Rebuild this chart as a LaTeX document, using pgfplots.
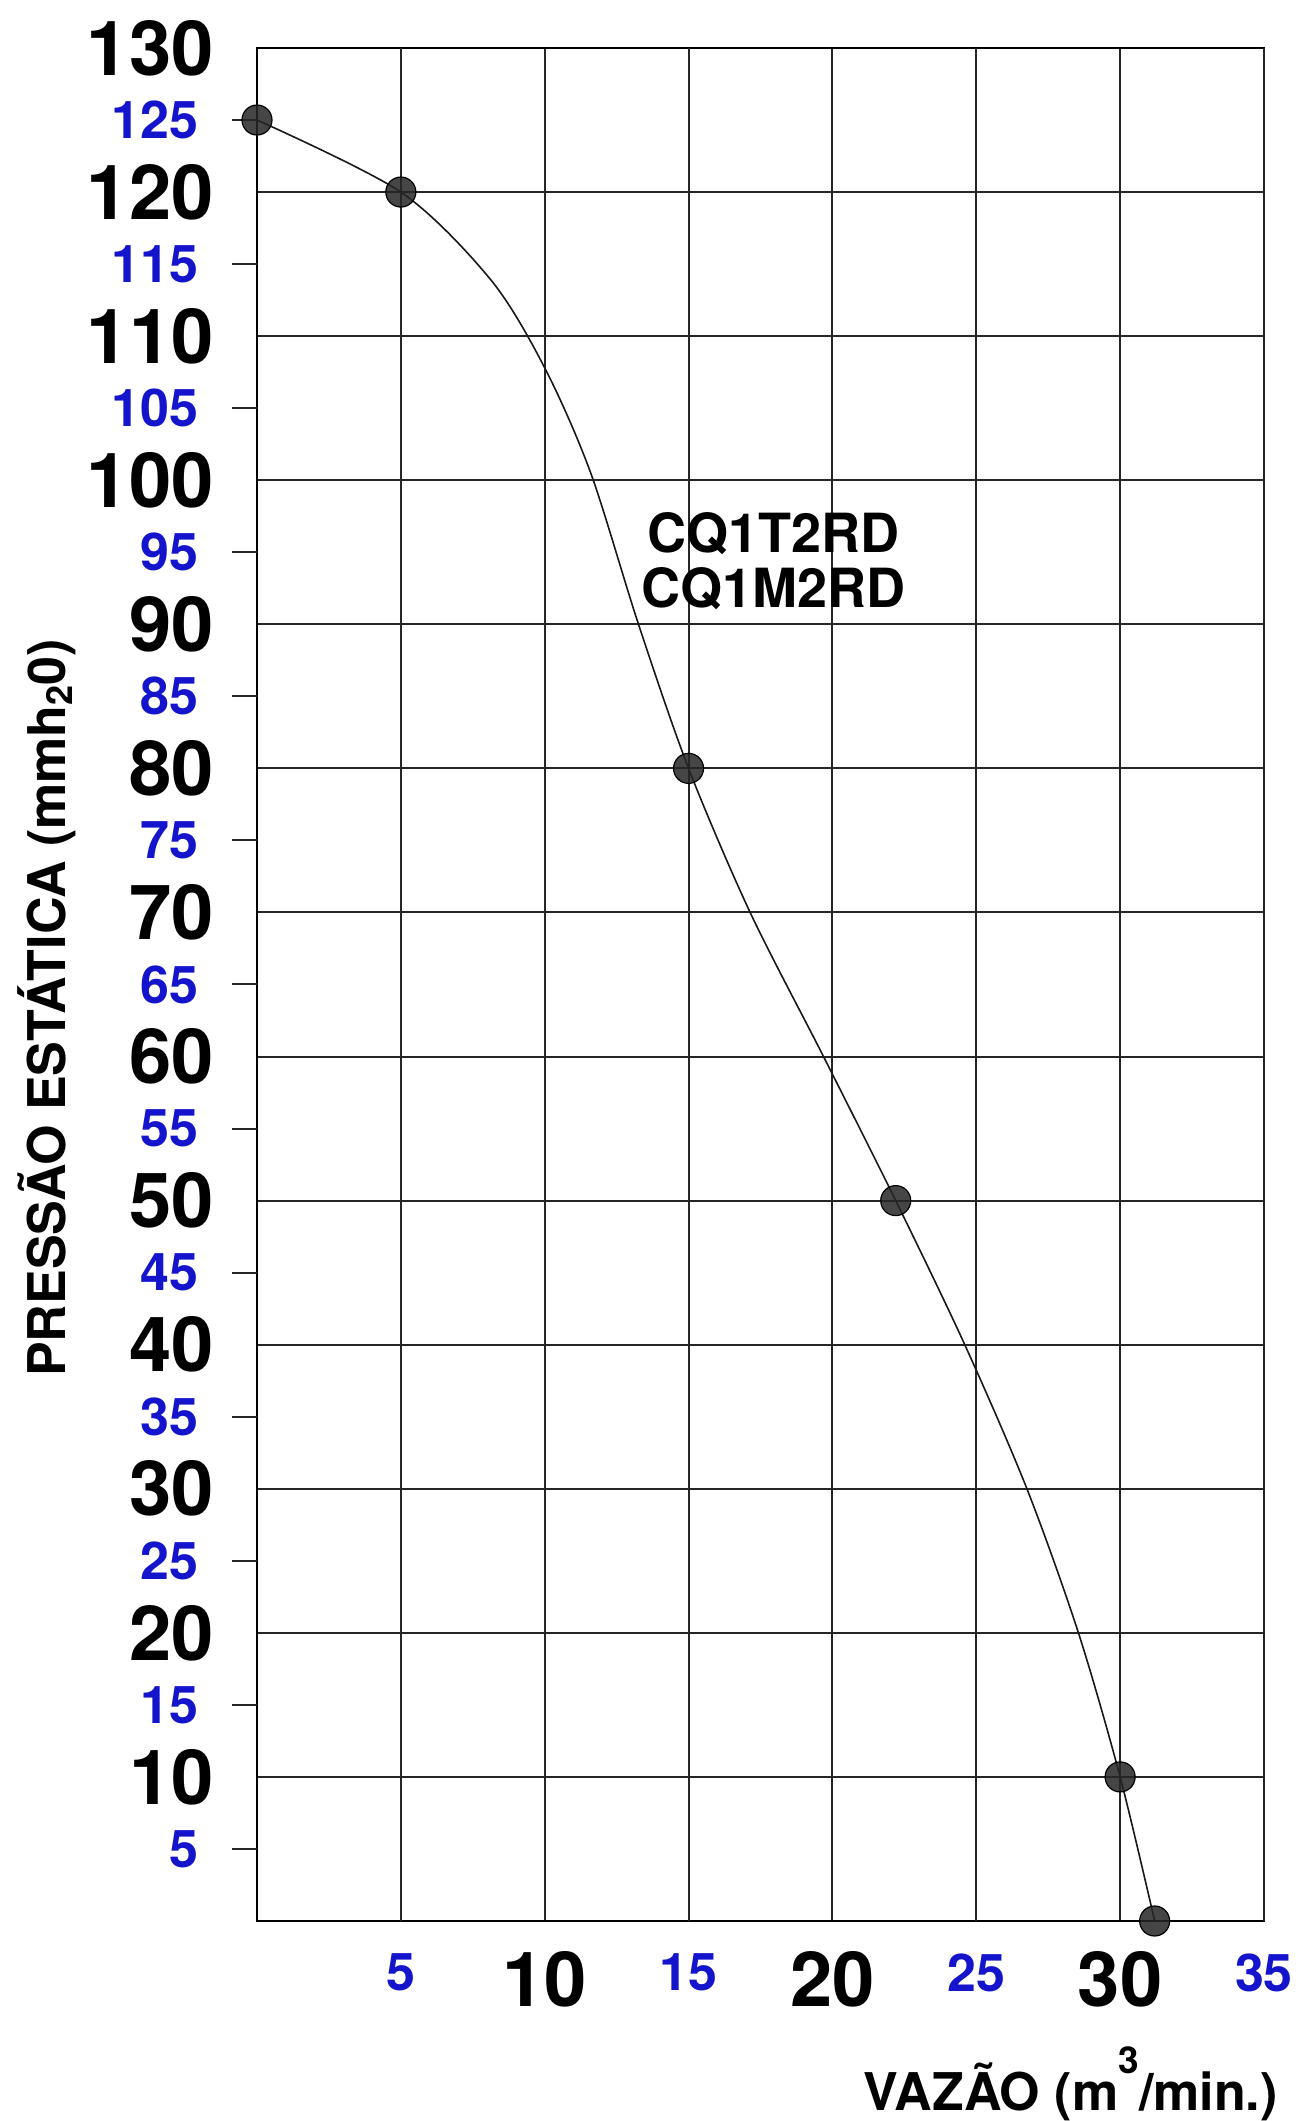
\documentclass[border=0pt]{standalone}
\usepackage{fontspec}
\setmainfont{TeX Gyre Heros}
\usepackage{pgfplots}
\pgfplotsset{compat=1.18}
\definecolor{tickblue}{RGB}{20,20,205}

\pgfplotstableread{
x y
0 125
5 120
15 80
22.2 50
30 10
31.2 0
}\points

\pgfplotstableread{
x y
0 125
5 120
8.13 113.9
10.0 107.8
11.6 100.5
13.26 90
15 80
17.14 70
19.69 60
22.2 50
24.6 40
26.76 30
28.55 20
30 10
31.2 0
}\curve

\begin{document}
\begin{tikzpicture}
\begin{axis}[
  scale only axis,
  width=503.5pt, height=936.5pt,
  xmin=0, xmax=35, ymin=0, ymax=130,
  axis line style={black, line width=1pt},
  xtick={10,20,30}, ytick={10,20,...,130},
  xtick pos=bottom, ytick pos=left,
  grid=major,
  major grid style={black!85, line width=1pt},
  major tick length=0pt,
  /pgf/number format/assume math mode=true,
  tick label style={font=\fontsize{38}{38}\selectfont\bfseries, text=black},
  xticklabel style={anchor=north, inner sep=0pt, yshift=-15pt},
  yticklabel style={anchor=east, inner sep=0pt, xshift=-21.5pt},
  extra x ticks={5,15,25,35},
  extra x tick style={grid=major, tick label style={font=\fontsize{26}{26}\selectfont\bfseries, text=tickblue}, xticklabel style={yshift=-1pt}},
  extra y ticks={5,15,...,125},
  extra y tick style={grid=none, major tick length=12.5pt, tick align=outside,
     tick style={black!85, line width=1pt},
     tick label style={font=\fontsize{26}{26}\selectfont\bfseries, text=tickblue},
     yticklabel style={xshift=5pt}},
  clip=false,
]
\addplot[black!90, line width=0.8pt, smooth, tension=0.5] table[x=x,y=y] {\curve};
\addplot[only marks, mark=*, mark size=7.5pt, mark options={draw=black, fill=black!85, fill opacity=0.85, line width=0.6pt}] table[x=x,y=y] {\points};
\node[align=center, font=\fontsize{27}{27.5}\selectfont\bfseries] at (axis cs:17.95,94.4) {CQ1T2RD\\CQ1M2RD};
\node[rotate=90, anchor=center, inner sep=0pt, font=\fontsize{26}{26}\selectfont\bfseries] at (rel axis cs:-0.2085,0.4875) {PRESSÃO ESTÁTICA (mmh\raisebox{-0.12em}{\fontsize{18}{18}\selectfont 2}0)};
\node[anchor=base east, inner sep=0pt, font=\fontsize{26}{26}\selectfont\bfseries] at (rel axis cs:1.014,-0.101) {VAZÃO (m\raisebox{0.71em}{\fontsize{18.5}{18.5}\selectfont 3}/min.)};
\path (rel axis cs:-0.2552,1.02563) rectangle (rel axis cs:1.0338,-0.10678);
\end{axis}
\end{tikzpicture}
\end{document}
